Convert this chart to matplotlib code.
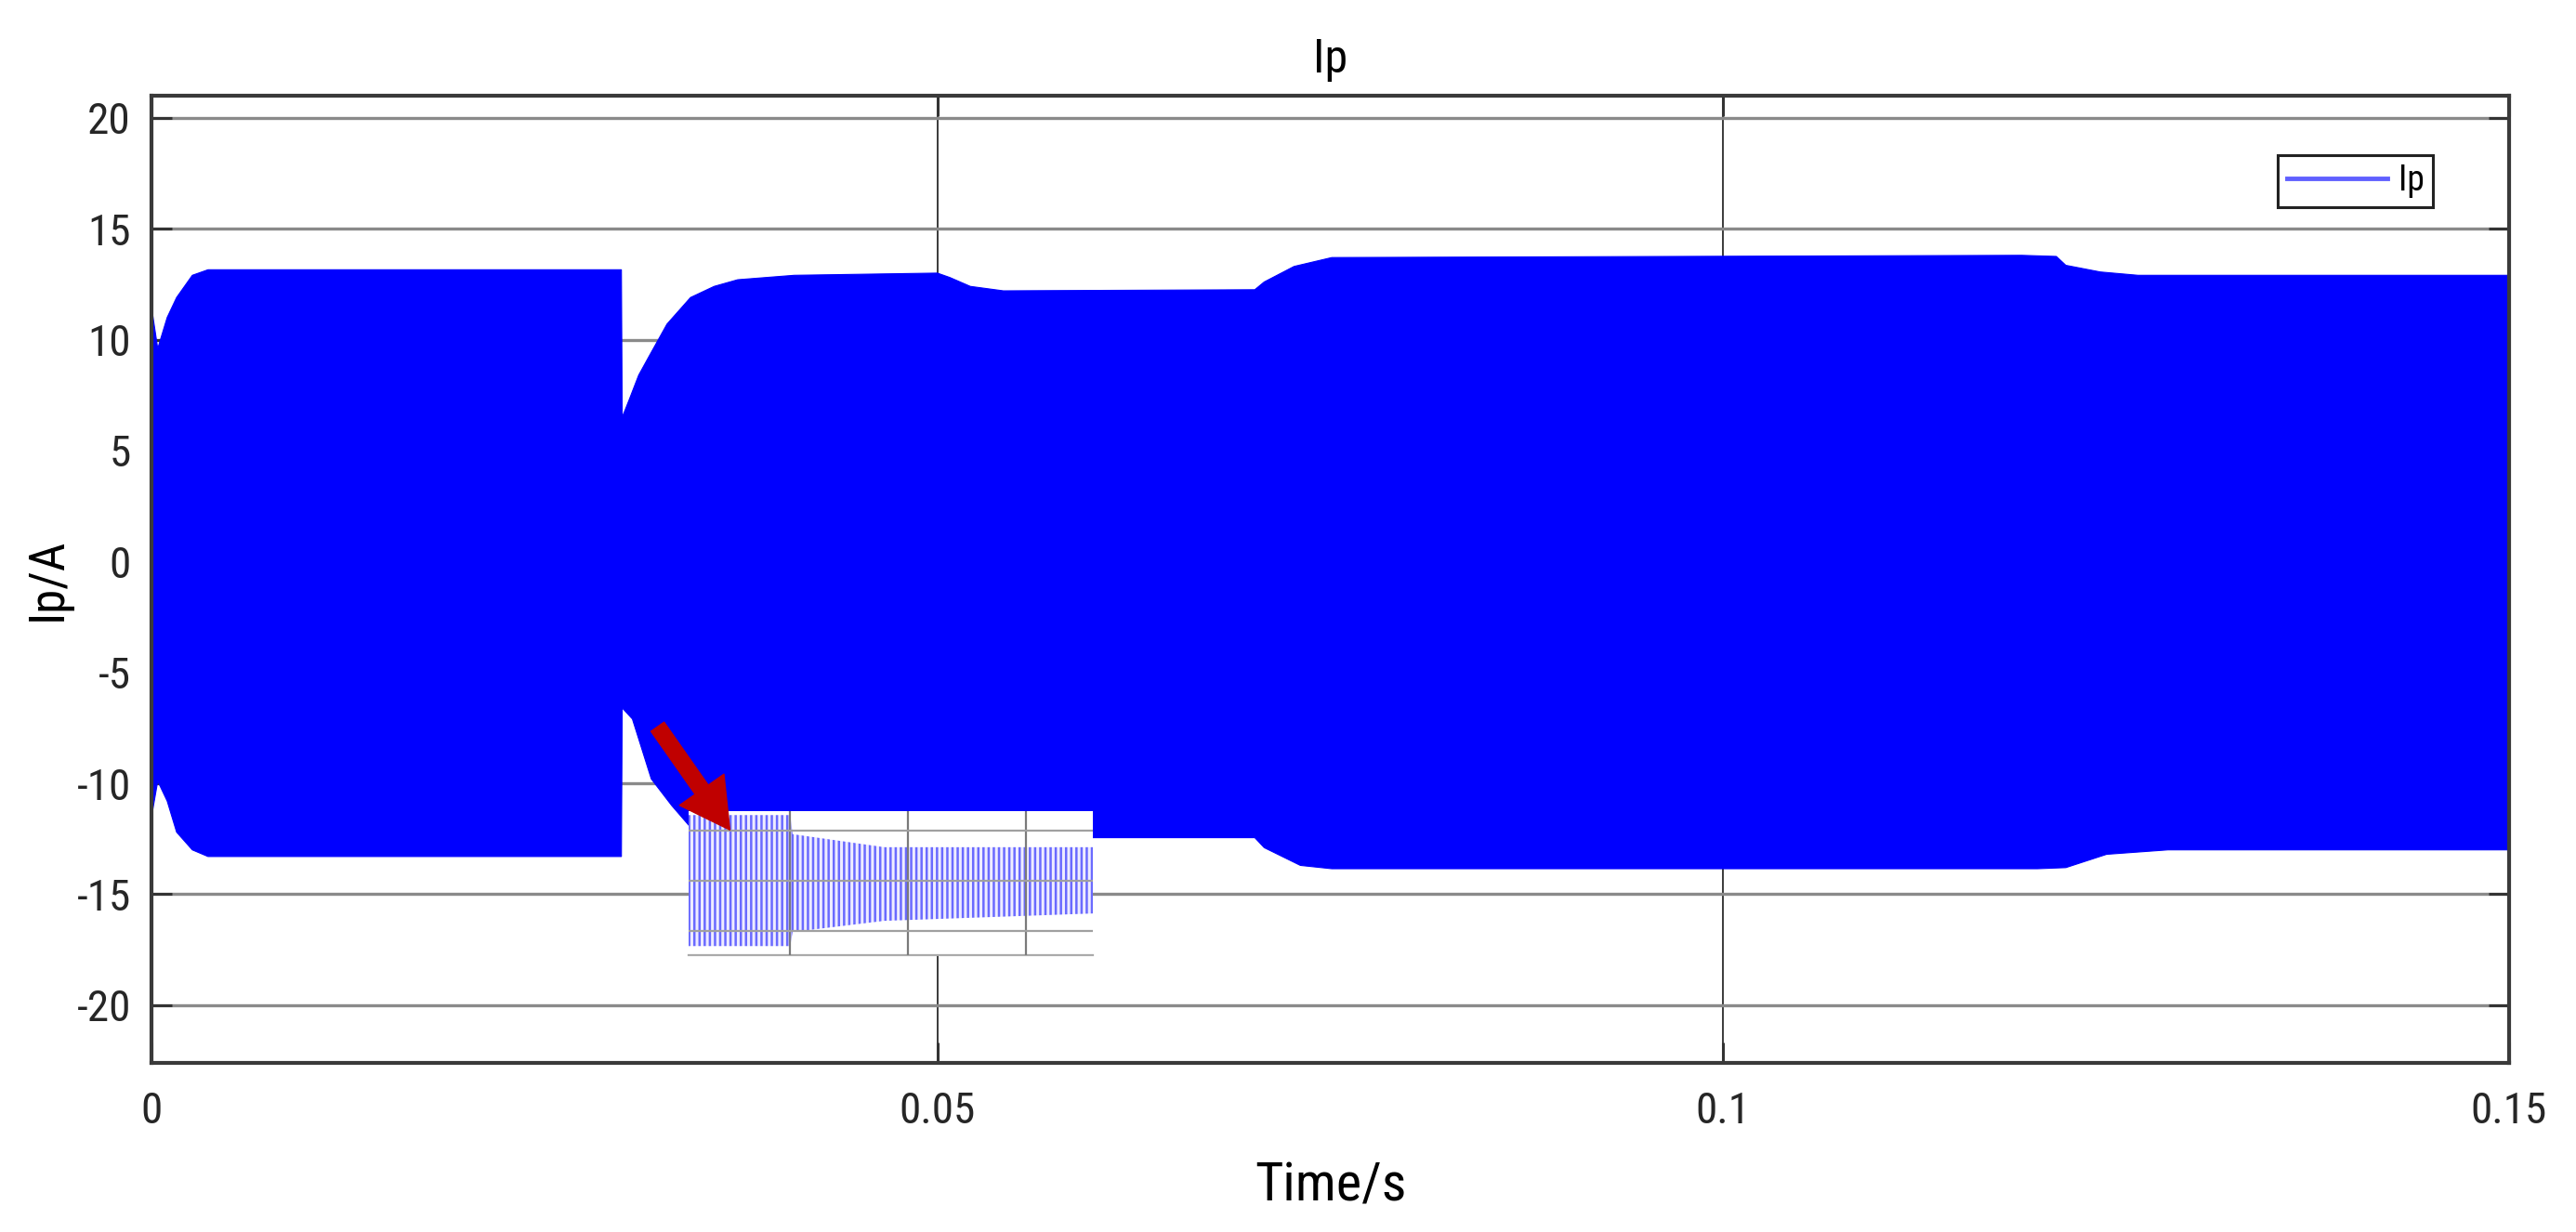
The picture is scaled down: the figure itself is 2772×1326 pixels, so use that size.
import matplotlib
matplotlib.use('Agg')
import matplotlib.pyplot as plt
from matplotlib.lines import Line2D
from matplotlib import font_manager
import numpy as np

names = {f.name for f in font_manager.fontManager.ttflist}
main_font = next((n for n in ['Roboto Condensed', 'Archivo Narrow', 'Liberation Sans Narrow',
                              'Liberation Sans'] if n in names), 'DejaVu Sans')
plt.rcParams['font.family'] = [main_font, 'Liberation Sans', 'DejaVu Sans']
plt.rcParams['axes.unicode_minus'] = False
plt.rcParams['hatch.linewidth'] = 1.8

# ---- data: envelope of the Ip waveform (A) ----
upper_t = [0.0, 0.00008, 0.0004, 0.0010, 0.0016, 0.0026, 0.0036, 0.0299,
           0.02995, 0.0304, 0.0310, 0.0317, 0.0328, 0.0343, 0.0358, 0.0373,
           0.0409, 0.0500, 0.0508, 0.0521, 0.0542, 0.0702, 0.0708, 0.0727,
           0.0751, 0.1190, 0.1212, 0.1218, 0.1240, 0.1264, 0.1500]
upper_v = [16.9, 11.1, 9.6, 11.0, 11.9, 12.9, 13.15, 13.15,
           6.5, 7.3, 8.4, 9.3, 10.7, 11.9, 12.4, 12.7,
           12.9, 13.0, 12.8, 12.4, 12.2, 12.25, 12.6, 13.3,
           13.7, 13.8, 13.75, 13.35, 13.05, 12.9, 12.9]

lower_t = [0.0, 0.00008, 0.0004, 0.0010, 0.0016, 0.0026, 0.0036, 0.0299,
           0.02995, 0.0306, 0.0318, 0.0331, 0.0342, 0.0360, 0.0400, 0.0500,
           0.0521, 0.0542, 0.0702, 0.0708, 0.0731, 0.0751, 0.1200, 0.1218,
           0.1244, 0.1283, 0.1500]
lower_v = [-18.5, -11.2, -9.9, -10.8, -12.2, -13.0, -13.3, -13.3,
           -6.6, -7.1, -9.8, -11.0, -11.9, -12.5, -12.8, -12.9,
           -12.55, -12.45, -12.45, -12.9, -13.7, -13.85, -13.85, -13.8,
           -13.2, -13.0, -13.0]

# zoomed detail (inset), arbitrary time units
inset_t_up = [0.136, 1.0, 1.02, 1.8, 3.572]
inset_up = [13.1, 13.1, 9.3, 6.7, 6.7]
inset_t_lo = [0.136, 1.0, 1.02, 2.07, 3.572]
inset_lo = [-13.0, -13.0, -10.2, -7.2, -6.5]

x_ticks = [0, 0.05, 0.1, 0.15]
x_tick_labels = ['0', '0.05', '0.1', '0.15']
y_ticks = [-20, -15, -10, -5, 0, 5, 10, 15, 20]
arrow_tail = (0.0322, -7.45)
arrow_tip = (0.0368, -12.1)

# ---- figure ----
fig = plt.figure(figsize=(27.72, 13.26), dpi=100)
ax = fig.add_axes([0.0588, 0.1373, 0.9152, 0.7851])

poly_t = np.concatenate([upper_t, lower_t[::-1]])
poly_v = np.concatenate([upper_v, lower_v[::-1]])
ax.fill(poly_t, poly_v, color='#0000ff', lw=0.8, zorder=2)

ax.set_xlim(0, 0.15)
ax.set_ylim(-22.6, 21.0)
ax.set_xticks(x_ticks)
ax.set_xticklabels(x_tick_labels)
ax.set_yticks(y_ticks)
ax.set_axisbelow(True)
ax.yaxis.grid(True, color='#8a8a8a', lw=2.4)
ax.xaxis.grid(True, color='#3a3a3a', lw=1.4)

for s in ax.spines.values():
    s.set_color('#3a3a3a')
    s.set_linewidth(3.0)

ax.tick_params(axis='both', direction='in', length=16, width=2.2,
               color='#333333', labelsize=34, labelcolor='#262626',
               top=True, right=True)
ax.tick_params(axis='y', pad=16)
ax.tick_params(axis='x', pad=22)

ax.set_title('Ip', fontsize=36, pad=18)
ax.set_xlabel('Time/s', fontsize=42, labelpad=22)
ax.set_ylabel('Ip/A', fontsize=38, labelpad=4)

handle = Line2D([], [], color='#6060ff', lw=3.5)
leg = ax.legend([handle], ['Ip'], loc='upper right',
                bbox_to_anchor=(0.9677, 0.9385), borderaxespad=0,
                fontsize=27, handlelength=2.9, handletextpad=0.3,
                borderpad=0.25, fancybox=False, framealpha=1)
leg.get_frame().set_edgecolor('#222222')
leg.get_frame().set_linewidth(2.2)

# ---- inset with zoomed waveform ----
ins = ax.inset_axes([0.2278, 0.1114, 0.1715, 0.1489])
ins.set_facecolor('white')
ins.fill_between(inset_t_up, inset_up, np.interp(inset_t_up, inset_t_lo, inset_lo),
                 facecolor='#eeecff', edgecolor='#6a6aff', hatch='|||', lw=0)
ins.set_xlim(0.136, 3.572)
ins.set_ylim(-14.8, 13.9)
ins.set_xticks([1, 2, 3])
ins.set_yticks([10, 0, -10])
ins.set_axisbelow(False)
ins.yaxis.grid(True, color='#a0a0a0', lw=1.6)
ins.xaxis.grid(True, color='#7a7a7a', lw=1.6)
ins.tick_params(length=0, labelbottom=False, labelleft=False)
for k, s in ins.spines.items():
    s.set_visible(k == 'bottom')
ins.spines['bottom'].set_color('#aaaaaa')
ins.spines['bottom'].set_linewidth(1.6)
ins.set_zorder(5)

ax.annotate('', xy=arrow_tip, xytext=arrow_tail, zorder=10,
            arrowprops=dict(arrowstyle='simple,head_length=1.9,head_width=2.1,tail_width=0.62',
                            color='#c00000', mutation_scale=20,
                            shrinkA=0, shrinkB=0))

fig.savefig('out.png', dpi=100, facecolor='white')
